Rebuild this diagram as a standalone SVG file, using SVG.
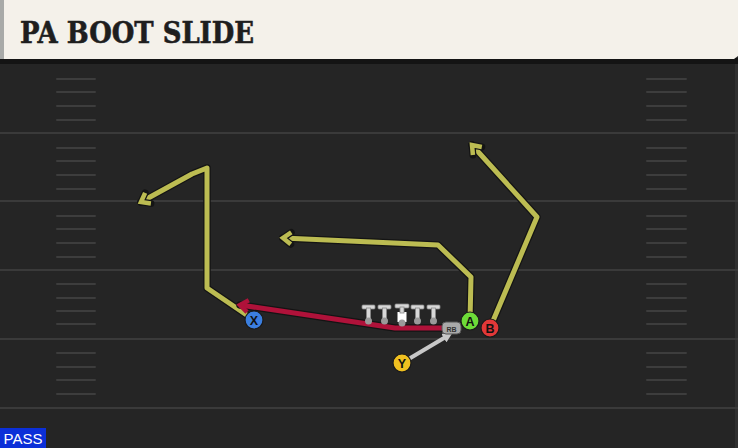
<svg xmlns="http://www.w3.org/2000/svg" width="738" height="448" viewBox="0 0 738 448">
<defs>
<style>
.yl{stroke:#3a3a3a;stroke-width:2}
.hm{stroke:#3d3d3d;stroke-width:2;stroke-linecap:round}
.rt-o{fill:none;stroke:#141414;stroke-width:7.5;stroke-linejoin:round;stroke-linecap:round}
.rt{fill:none;stroke:#bcbc52;stroke-width:5;stroke-linejoin:round;stroke-linecap:butt}
.rd{fill:none;stroke:#b0123a;stroke-width:5;stroke-linejoin:round}
.gy{fill:none;stroke:#c8c8c8;stroke-width:4}
.lbl{font-family:"Liberation Sans",Arial,sans-serif;font-weight:bold;font-size:12.5px;text-anchor:middle;fill:#111}
.ol{fill:#d8d8d8;stroke:#888;stroke-width:0.8}
</style>
<marker id="ay" viewBox="-14 -10 18 20" refX="0" refY="0" markerWidth="18" markerHeight="20" orient="auto" markerUnits="userSpaceOnUse">
<path d="M-8,-6 L0,0 L-8,6" fill="none" stroke="#141414" stroke-width="7" stroke-linecap="round" stroke-linejoin="miter"/>
<path d="M-8,-6 L0,0 L-8,6" fill="none" stroke="#bcbc52" stroke-width="4.5" stroke-linecap="butt" stroke-linejoin="miter"/>
</marker>
<marker id="ar" viewBox="-14 -10 18 20" refX="0" refY="0" markerWidth="18" markerHeight="20" orient="auto" markerUnits="userSpaceOnUse">
<path d="M-8,-6 L0,0 L-8,6" fill="none" stroke="#b0123a" stroke-width="4.5" stroke-linecap="butt" stroke-linejoin="miter"/>
</marker>
<marker id="ag" viewBox="0 0 10 10" refX="6" refY="5" markerWidth="2.5" markerHeight="2.5" orient="auto" markerUnits="strokeWidth">
<path d="M0,0 L10,5 L0,10 Z" fill="#c8c8c8"/>
</marker>
</defs>
<rect width="738" height="448" fill="#252525"/>
<rect x="735" y="60" width="3" height="388" fill="#303030"/>
<g id="field">
<line class="yl" x1="0" y1="133" x2="738" y2="133"/>
<line class="yl" x1="0" y1="201" x2="738" y2="201"/>
<line class="yl" x1="0" y1="270" x2="738" y2="270"/>
<line class="yl" x1="0" y1="339" x2="738" y2="339"/>
<line class="yl" x1="0" y1="408" x2="738" y2="408"/>
<g id="hashes">
<path class="hm" d="M57,79H95M57,92H95M57,106H95M57,120H95M57,148H95M57,161H95M57,175H95M57,189H95M57,216H95M57,229H95M57,243H95M57,257H95M57,284H95M57,298H95M57,311H95M57,324H95M57,353H95M57,367H95M57,380H95M57,394H95"/>
<path class="hm" d="M647,79H686M647,92H686M647,106H686M647,120H686M647,148H686M647,161H686M647,175H686M647,189H686M647,216H686M647,229H686M647,243H686M647,257H686M647,284H686M647,298H686M647,311H686M647,324H686M647,353H686M647,367H686M647,380H686M647,394H686"/>
</g>
</g>
<g id="header">
<rect x="0" y="58" width="738" height="6" fill="#141414"/>
<path d="M0,0 H738 V56 L734,59 H0 Z" fill="#f4f1ea"/>
<rect x="0" y="0" width="4" height="59" fill="#a8aaa8"/>
<text x="20" y="43" font-family="'DejaVu Serif','Liberation Serif',serif" font-weight="900" font-size="29" fill="#1e1e1e" stroke="#1e1e1e" stroke-width="0.6" textLength="234" lengthAdjust="spacingAndGlyphs">PA BOOT SLIDE</text>
</g>
<g id="connectors">
<polyline class="rt-o" points="254,320 207,288 207,168 192,174 141,202"/>
<polyline class="rt" points="254,320 207,288 207,168 192,174 141,202" marker-end="url(#ay)"/>
<polyline class="rt-o" points="470,321 471,277 438,245 283,238"/>
<polyline class="rt" points="470,321 471,277 438,245 283,238" marker-end="url(#ay)"/>
<polyline class="rt-o" points="490,328 537,217 472,145"/>
<polyline class="rt" points="490,328 537,217 472,145" marker-end="url(#ay)"/>
<polyline class="rt-o" points="444,328 395,328 240,305"/>
<polyline class="rd" points="444,328 395,328 240,305" marker-end="url(#ar)"/>
<line class="gy" x1="402" y1="363" x2="449" y2="335" marker-end="url(#ag)"/>
</g>
<g id="oline">
<g id="ol1"><rect class="ol" x="362" y="305" width="13" height="4" rx="1"/><rect class="ol" x="366.5" y="308" width="4" height="12"/><circle cx="368.5" cy="321" r="3.5" fill="#9a9a9a"/></g>
<g id="ol2"><rect class="ol" x="378" y="305" width="13" height="4" rx="1"/><rect class="ol" x="382.5" y="308" width="4" height="12"/><circle cx="384.5" cy="321" r="3.5" fill="#9a9a9a"/></g>
<g id="center"><rect class="ol" x="395" y="304" width="14" height="4" rx="1"/><rect x="397.5" y="312" width="9" height="10" fill="#ffffff"/><rect class="ol" x="400" y="307" width="4" height="6"/><circle cx="402" cy="323" r="3.5" fill="#9a9a9a"/></g>
<g id="ol4"><rect class="ol" x="411" y="305" width="13" height="4" rx="1"/><rect class="ol" x="415.5" y="308" width="4" height="12"/><circle cx="417.5" cy="321" r="3.5" fill="#9a9a9a"/></g>
<g id="ol5"><rect class="ol" x="427" y="305" width="13" height="4" rx="1"/><rect class="ol" x="431.5" y="308" width="4" height="12"/><circle cx="433.5" cy="321" r="3.5" fill="#9a9a9a"/></g>
</g>
<g id="rb"><rect x="442" y="322" width="19" height="12" rx="4" fill="#a9a9a9" stroke="#555" stroke-width="1"/><text x="451.5" y="331.5" font-family="'Liberation Sans',Arial,sans-serif" font-weight="bold" font-size="7" text-anchor="middle" fill="#333">RB</text></g>
<g id="X"><circle cx="254" cy="320" r="9" fill="#3b7fe0" stroke="#1a1a1a" stroke-width="1.2"/><text class="lbl" x="254" y="324.5">X</text></g>
<g id="A"><circle cx="470" cy="321" r="9" fill="#6ddb38" stroke="#1a1a1a" stroke-width="1.2"/><text class="lbl" x="470" y="325.5">A</text></g>
<g id="B"><circle cx="490" cy="328" r="9" fill="#e23838" stroke="#1a1a1a" stroke-width="1.2"/><text class="lbl" x="490" y="332.5">B</text></g>
<g id="Y"><circle cx="402" cy="363" r="9" fill="#f0c020" stroke="#1a1a1a" stroke-width="1.2"/><text class="lbl" x="402" y="367.5">Y</text></g>
<g id="pass"><rect x="0" y="428" width="46" height="20" fill="#0b2fd8"/><text x="23" y="444" font-family="'Liberation Sans',Arial,sans-serif" font-size="15" text-anchor="middle" fill="#ffffff">PASS</text></g>
</svg>
